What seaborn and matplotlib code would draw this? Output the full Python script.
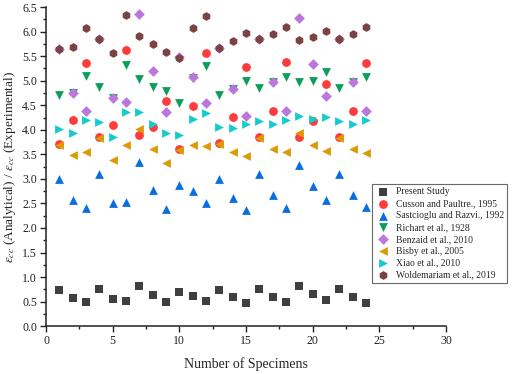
import numpy as np
import pandas as pd
import seaborn as sns
from matplotlib import pyplot as plt
from matplotlib.ticker import MultipleLocator

# Specimen numbers
specimens = list(range(1, 25))

present_study = [0.74, 0.58, 0.50, 0.75, 0.55, 0.52, 0.82, 0.63, 0.50, 0.70, 0.61, 0.51,
                 0.74, 0.59, 0.48, 0.75, 0.60, 0.50, 0.82, 0.65, 0.53, 0.75, 0.60, 0.48]
cusson = [3.72, 4.20, 5.37, 3.85, 4.10, 5.62, 3.89, 4.05, 4.58, 3.61, 4.48, 5.57,
          3.74, 4.27, 5.27, 3.86, 4.39, 5.38, 3.85, 4.18, 4.93, 3.86, 4.39, 5.37]
sastcioglu = [2.99, 2.56, 2.41, 3.09, 2.51, 2.52, 3.34, 2.78, 2.39, 2.88, 2.75, 2.51,
              2.99, 2.61, 2.37, 3.09, 2.68, 2.41, 3.29, 2.86, 2.58, 3.09, 2.68, 2.43]
richart = [4.70, 4.74, 5.10, 4.87, 4.65, 5.33, 5.04, 4.88, 4.79, 4.54, 5.06, 5.29,
           4.70, 4.83, 5.00, 4.85, 4.97, 5.08, 4.98, 5.00, 5.17, 4.85, 4.97, 5.08]
benzaid = [5.65, 4.74, 4.38, 5.85, 4.65, 4.56, 6.36, 5.19, 4.36, 5.48, 5.08, 4.54,
           5.67, 4.83, 4.29, 5.85, 4.97, 4.38, 6.28, 5.34, 4.68, 5.85, 4.97, 4.38]
bisby = [3.70, 3.48, 3.54, 3.84, 3.39, 3.70, 4.01, 3.61, 3.33, 3.58, 3.70, 3.67,
         3.72, 3.54, 3.46, 3.84, 3.61, 3.54, 3.94, 3.70, 3.56, 3.84, 3.61, 3.53]
xiao = [4.02, 3.94, 4.19, 4.16, 3.86, 4.37, 4.36, 4.11, 3.94, 3.90, 4.22, 4.34,
        4.05, 4.03, 4.11, 4.17, 4.11, 4.20, 4.29, 4.23, 4.26, 4.18, 4.11, 4.20]
woldemariam = [5.64, 5.69, 6.07, 5.84, 5.57, 6.34, 5.91, 5.74, 5.58, 5.47, 6.08, 6.31,
               5.66, 5.80, 5.97, 5.84, 5.95, 6.09, 5.82, 5.89, 6.01, 5.84, 5.95, 6.09]

labels = ["Present Study", "Cusson and Paultre., 1995", "Sastcioglu and Razvi., 1992",
          "Richart et al., 1928", "Benzaid et al., 2010", "Bisby et al., 2005",
          "Xiao et al., 2010", "Woldemariam et al., 2019"]
series = [present_study, cusson, sastcioglu, richart, benzaid, bisby, xiao, woldemariam]
colors = ["#3f3f3f", "#ff3b3b", "#0a6ee0", "#0a9e5a", "#bb77dd", "#dd9a05", "#14cccc", "#7a4444"]
markers = ["s", "o", "^", "v", "D", "<", ">", "h"]

sns.set_style("ticks")
plt.rcParams['font.family'] = ['Liberation Serif', 'DejaVu Serif']
plt.rcParams['mathtext.fontset'] = 'stix'

fig = plt.figure(figsize=(5.12, 3.74), dpi=100)
ax = fig.add_axes([0.09, 0.128, 0.781, 0.853])

for vals, lab, col, mk in zip(series, labels, colors, markers):
    df = pd.DataFrame({'x': specimens, 'y': vals})
    sz = 40 if mk != "D" else 30
    sns.scatterplot(data=df, x='x', y='y', ax=ax, color=col, marker=mk, s=sz,
                    linewidth=0, label=lab, zorder=3)

ax.set_xlim(0, 30)
ax.set_ylim(0, 6.5)
ax.xaxis.set_major_locator(MultipleLocator(5))
ax.xaxis.set_minor_locator(MultipleLocator(2.5))
ax.yaxis.set_major_locator(MultipleLocator(0.5))
ax.yaxis.set_minor_locator(MultipleLocator(0.25))
ax.tick_params(which='both', direction='out', labelsize=8.5, width=1, colors='#222222', pad=2.5)
ax.tick_params(which='major', length=4)
ax.tick_params(which='minor', length=2.5)
for sp in ['left', 'bottom']:
    ax.spines[sp].set_linewidth(1.1)
    ax.spines[sp].set_color('#222222')
sns.despine(ax=ax)

ax.set_xlabel("Number of Specimens", fontsize=10, labelpad=7)
ax.set_ylabel(r"$\varepsilon_{cc}$ (Analytical) / $\varepsilon_{cc}$ (Experimental)", fontsize=9.5, labelpad=3)

leg = ax.legend(loc='upper left', bbox_to_anchor=(0.727, 0.508), bbox_transform=fig.transFigure,
                fontsize=6.9, frameon=True, fancybox=False, borderpad=0.35, labelspacing=0.3,
                handletextpad=0.5, handlelength=1.6, borderaxespad=0)
leg.get_frame().set_edgecolor('#444444')
leg.get_frame().set_linewidth(0.8)

fig.savefig("out.png", dpi=100)
